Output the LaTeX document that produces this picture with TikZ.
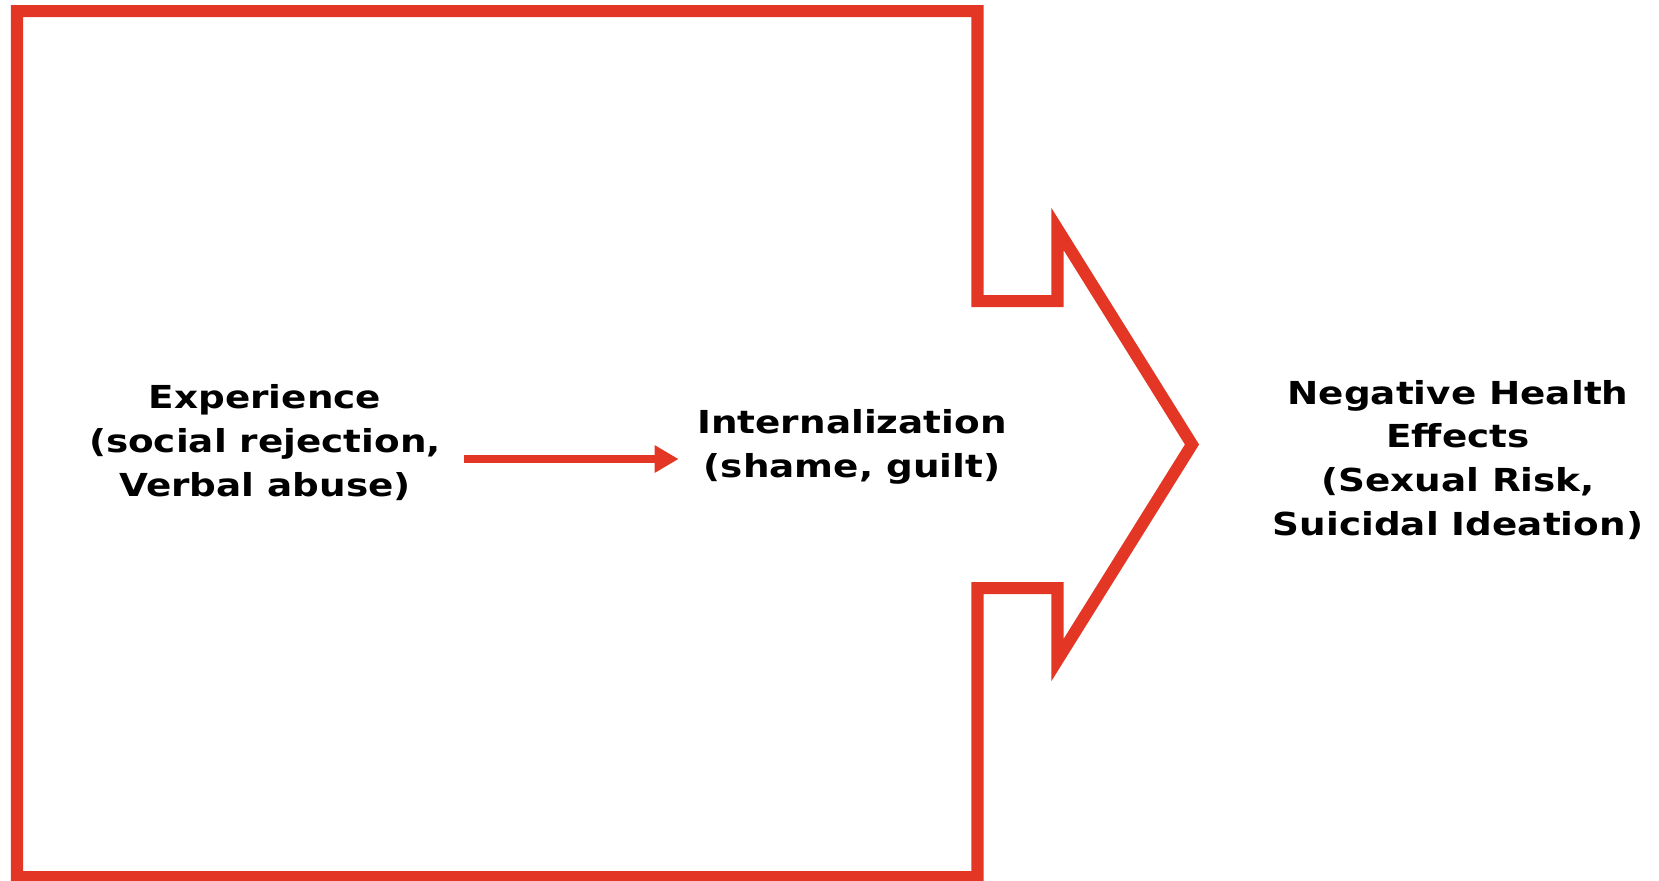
\documentclass[tikz,border=0pt]{standalone}
\usepackage{fontspec}
\newfontfamily\boxfont{DejaVu Sans}[FakeStretch=1.18]
\usepackage{xcolor}
\usetikzlibrary{arrows.meta}
\definecolor{framered}{RGB}{228,54,36}

\begin{document}
\begin{tikzpicture}[x=0.01cm, y=-0.01cm,
    outline/.style={draw=framered, line width=1.2mm, line join=miter, miter limit=10},
    flow/.style={draw=framered, line width=0.8mm, -{Triangle[length=2.4mm, width=2.6mm]}},
    stage/.style={align=center, inner xsep=2.2mm, font={\boxfont\bfseries\fontsize{9}{12.5}\selectfont}}]
  \useasboundingbox (0,0) rectangle (1659,881);

  % Frame with arrow head
  \draw[outline] (17,11) -- (977.5,11) -- (977.5,301) -- (1057.5,301) -- (1057.5,229)
    -- (1192,444.5) -- (1057.5,660) -- (1057.5,588) -- (977.5,588) -- (977.5,877)
    -- (17,877) -- cycle;

  % Stages
  \node[stage] (exp) at (265,443) {Experience\\(social rejection,\\Verbal abuse)};
  \node[stage, inner xsep=1.8mm] (intl) at (852,447) {Internalization\\(shame, guilt)};
  \node[stage] (neg) at (1458,460) {Negative Health\\Effects\\(Sexual Risk,\\Suicidal Ideation)};

  % Link
  \draw[flow] ([yshift=-1.6mm]exp.east) -- ([yshift=-1.6mm]exp.east -| intl.west);
\end{tikzpicture}
\end{document}
